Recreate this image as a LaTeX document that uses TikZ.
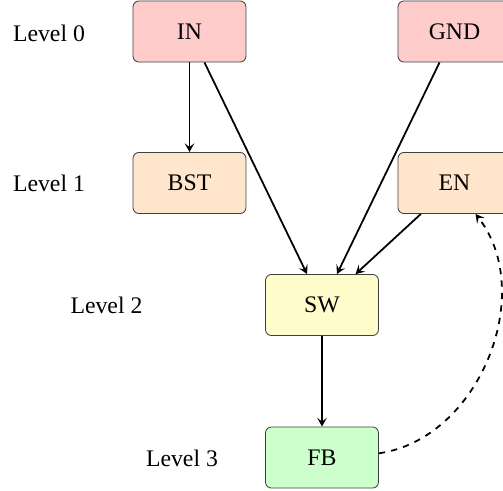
\documentclass[tikz,border=0pt]{standalone}
\usepackage{fontspec}
\setmainfont{Liberation Serif}
\usetikzlibrary{arrows.meta}
\begin{document}
\begin{tikzpicture}[x=0.48pt,y=-0.48pt,
  box/.style={draw=black!75, rounded corners=2.8pt, minimum width=54.2pt, minimum height=29.3pt, inner sep=0pt, font=\fontsize{11.4}{13}\selectfont},
  lvl/.style={font=\fontsize{11.4}{13}\selectfont, inner sep=0pt},
  conn/.style={line width=0.85pt, -{Stealth[length=4.2pt, width=4.6pt, inset=1.8pt]}},
  fb/.style={conn, dashed}]
\useasboundingbox (0,0) rectangle (503,491);
\node[box, fill=red!20] (IN) at (189.5,31.5) {IN};
\node[box, fill=red!20] (GND) at (454.5,31.5) {GND};
\node[box, fill=orange!20] (BST) at (189.5,183) {BST};
\node[box, fill=orange!20] (EN) at (454.5,183) {EN};
\node[box, fill=yellow!20] (SW) at (322,305) {SW};
\node[box, fill=green!20] (FB) at (322,457.5) {FB};
\node[lvl] (L0) at (49,33) {Level 0};
\node[lvl] (L1) at (49,183) {Level 1};
\node[lvl] (L2) at (106.5,305) {Level 2};
\node[lvl] (L3) at (182,458) {Level 3};
\draw[conn] (IN) -- (BST);
\draw[conn] (IN) -- (SW);
\draw[conn] (GND) -- (SW);
\draw[conn] (EN) -- (SW);
\draw[conn] (SW) -- (FB);
\draw[fb] (FB) to[bend right=60] (EN);
\end{tikzpicture}
\end{document}
